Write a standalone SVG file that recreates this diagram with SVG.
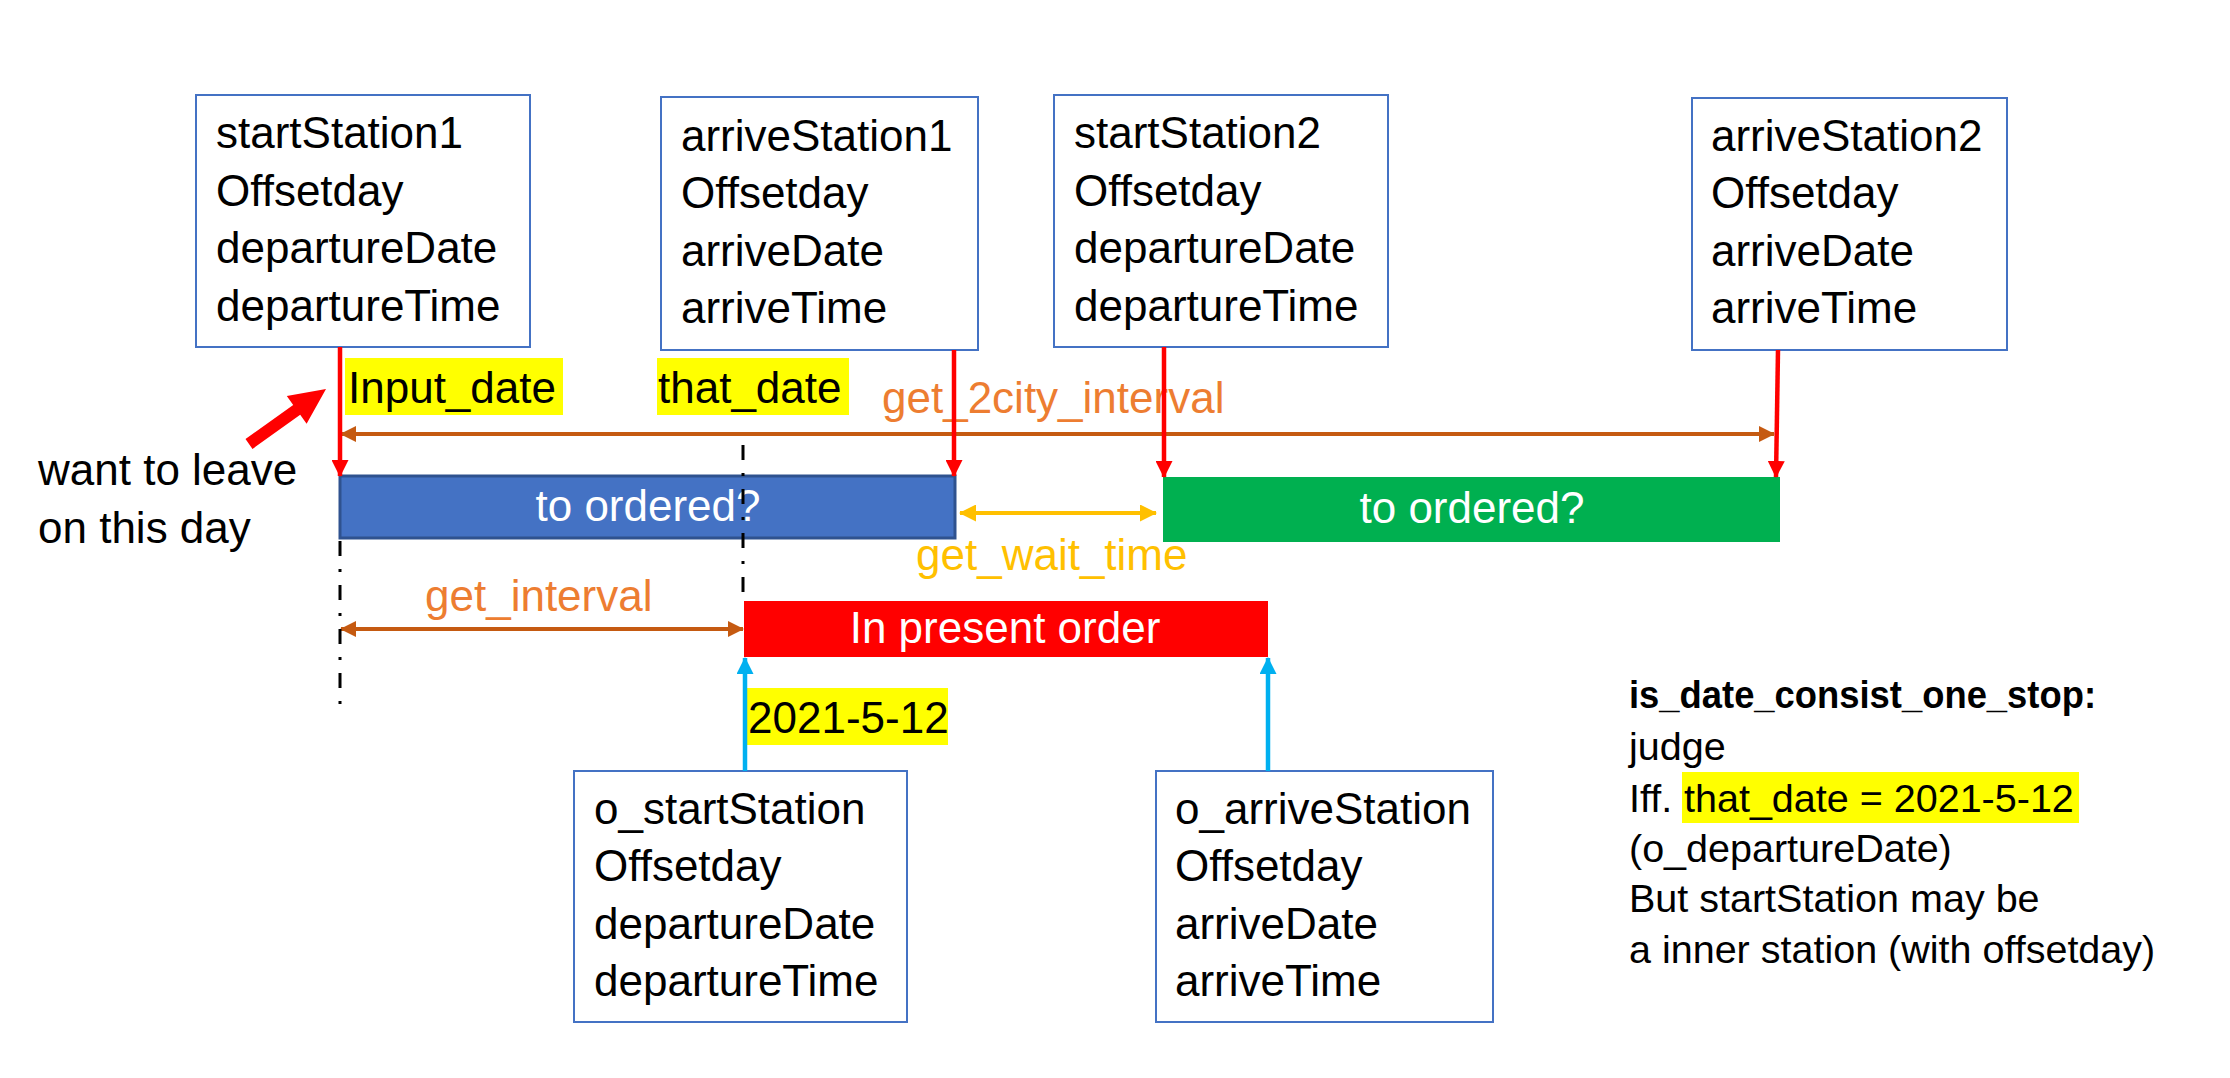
<svg xmlns="http://www.w3.org/2000/svg" width="2230" height="1078" viewBox="0 0 2230 1078">
<style>
text{font-family:"Liberation Sans",Arial,sans-serif;}
.box{fill:#ffffff;stroke:#4472C4;stroke-width:2;}
.bt{font-size:44px;fill:#000000;}
.bar{font-size:44px;fill:#ffffff;text-anchor:middle;}
.lbl{font-size:44px;}
.note{font-size:39.5px;fill:#000000;}
.hl{fill:#FFFF00;}
.red{stroke:#FF0000;stroke-width:4.5;fill:none;marker-end:url(#mRed);}
.cyan{stroke:#00B0F0;stroke-width:4.5;fill:none;marker-end:url(#mCyan);}
.brown{stroke:#C55A11;stroke-width:4;fill:none;marker-start:url(#mBrown);marker-end:url(#mBrown);}
.gold{stroke:#FFC000;stroke-width:4;fill:none;marker-start:url(#mGold);marker-end:url(#mGold);}
.dash{stroke:#000000;stroke-width:3;stroke-dasharray:15 13 3 13;fill:none;}
</style>
<defs>
<marker id="mRed" viewBox="0 0 17 17" refX="16" refY="8.5" markerWidth="17" markerHeight="17" markerUnits="userSpaceOnUse" orient="auto"><path d="M0,0 L17,8.5 L0,17 z" fill="#FF0000"/></marker>
<marker id="mCyan" viewBox="0 0 17 17" refX="16" refY="8.5" markerWidth="17" markerHeight="17" markerUnits="userSpaceOnUse" orient="auto"><path d="M0,0 L17,8.5 L0,17 z" fill="#00B0F0"/></marker>
<marker id="mBrown" viewBox="0 0 16 16" refX="15" refY="8" markerWidth="16" markerHeight="16" markerUnits="userSpaceOnUse" orient="auto-start-reverse"><path d="M0,0 L16,8 L0,16 z" fill="#C55A11"/></marker>
<marker id="mGold" viewBox="0 0 17 17" refX="16" refY="8.5" markerWidth="17" markerHeight="17" markerUnits="userSpaceOnUse" orient="auto-start-reverse"><path d="M0,0 L17,8.5 L0,17 z" fill="#FFC000"/></marker>
</defs>
<rect width="2230" height="1078" fill="#ffffff"/>

<g id="startStation1">
<rect class="box" x="196" y="95" width="334" height="252"/>
<text class="bt" x="216" y="148">startStation1</text>
<text class="bt" x="216" y="206">Offsetday</text>
<text class="bt" x="216" y="263">departureDate</text>
<text class="bt" x="216" y="321">departureTime</text>
</g>
<g id="arriveStation1">
<rect class="box" x="661" y="97" width="317" height="253"/>
<text class="bt" x="681" y="151">arriveStation1</text>
<text class="bt" x="681" y="208">Offsetday</text>
<text class="bt" x="681" y="266">arriveDate</text>
<text class="bt" x="681" y="323">arriveTime</text>
</g>
<g id="startStation2">
<rect class="box" x="1054" y="95" width="334" height="252"/>
<text class="bt" x="1074" y="148">startStation2</text>
<text class="bt" x="1074" y="206">Offsetday</text>
<text class="bt" x="1074" y="263">departureDate</text>
<text class="bt" x="1074" y="321">departureTime</text>
</g>
<g id="arriveStation2">
<rect class="box" x="1692" y="98" width="315" height="252"/>
<text class="bt" x="1711" y="151">arriveStation2</text>
<text class="bt" x="1711" y="208">Offsetday</text>
<text class="bt" x="1711" y="266">arriveDate</text>
<text class="bt" x="1711" y="323">arriveTime</text>
</g>
<g id="o_startStation">
<rect class="box" x="574" y="771" width="333" height="251"/>
<text class="bt" x="594" y="824">o_startStation</text>
<text class="bt" x="594" y="881">Offsetday</text>
<text class="bt" x="594" y="939">departureDate</text>
<text class="bt" x="594" y="996">departureTime</text>
</g>
<g id="o_arriveStation">
<rect class="box" x="1156" y="771" width="337" height="251"/>
<text class="bt" x="1175" y="824">o_arriveStation</text>
<text class="bt" x="1175" y="881">Offsetday</text>
<text class="bt" x="1175" y="939">arriveDate</text>
<text class="bt" x="1175" y="996">arriveTime</text>
</g>

<g id="bar1">
<rect x="340" y="476" width="615" height="62" fill="#4472C4" stroke="#2F528F" stroke-width="3"/>
<text class="bar" x="648" y="521">to ordered?</text>
</g>
<g id="bar2">
<rect x="1163" y="477" width="617" height="65" fill="#00B050"/>
<text class="bar" x="1472" y="523">to ordered?</text>
</g>
<g id="bar3">
<rect x="744" y="601" width="524" height="56" fill="#FF0000"/>
<text class="bar" x="1005" y="643">In present order</text>
</g>

<g id="labels">
<rect class="hl" x="345" y="358" width="218" height="57"/>
<text class="lbl" x="348" y="403" fill="#000000">Input_date</text>
<rect class="hl" x="657" y="358" width="192" height="57"/>
<text class="lbl" x="658" y="403" fill="#000000">that_date</text>
<text class="lbl" x="882" y="413" fill="#ED7D31">get_2city_interval</text>
<text class="lbl" x="916" y="570" fill="#FFC000">get_wait_time</text>
<text class="lbl" x="425" y="611" fill="#ED7D31">get_interval</text>
<rect class="hl" x="747" y="688" width="201" height="57"/>
<text class="lbl" x="748" y="733" fill="#000000">2021-5-12</text>
<text class="lbl" x="38" y="485" fill="#000000">want to leave</text>
<text class="lbl" x="38" y="543" fill="#000000">on this day</text>
</g>

<g id="note">
<text class="note" x="1629" y="708" font-weight="bold" textLength="467" lengthAdjust="spacingAndGlyphs">is_date_consist_one_stop:</text>
<text class="note" x="1629" y="760">judge</text>
<rect class="hl" x="1682" y="772" width="397" height="51"/>
<text class="note" x="1629" y="812">Iff.<tspan x="1684">that_date = 2021-5-12</tspan></text>
<text class="note" x="1629" y="862">(o_departureDate)</text>
<text class="note" x="1629" y="912">But startStation may be</text>
<text class="note" x="1629" y="963">a inner station (with offsetday)</text>
</g>

<g id="connectors">
<line class="brown" x1="341" y1="434" x2="1774" y2="434"/>
<line class="brown" x1="341" y1="629" x2="743" y2="629"/>
<line class="gold" x1="960" y1="513" x2="1156" y2="513"/>
<line class="dash" x1="340" y1="541" x2="340" y2="704"/>
<line class="dash" x1="743" y1="445" x2="743" y2="605"/>
<line class="red" x1="340" y1="347" x2="340" y2="476"/>
<line class="red" x1="954" y1="350" x2="954" y2="476"/>
<line class="red" x1="1164" y1="347" x2="1164" y2="477"/>
<line class="red" x1="1778" y1="350" x2="1776" y2="477"/>
<line class="cyan" x1="745" y1="771" x2="745" y2="658"/>
<line class="cyan" x1="1268" y1="771" x2="1268" y2="658"/>
<polygon points="245.5,439.1 293.2,405.0 286.8,396.1 326,389 306.6,423.7 300.2,414.8 252.5,448.9" fill="#FF0000"/>
</g>
</svg>
